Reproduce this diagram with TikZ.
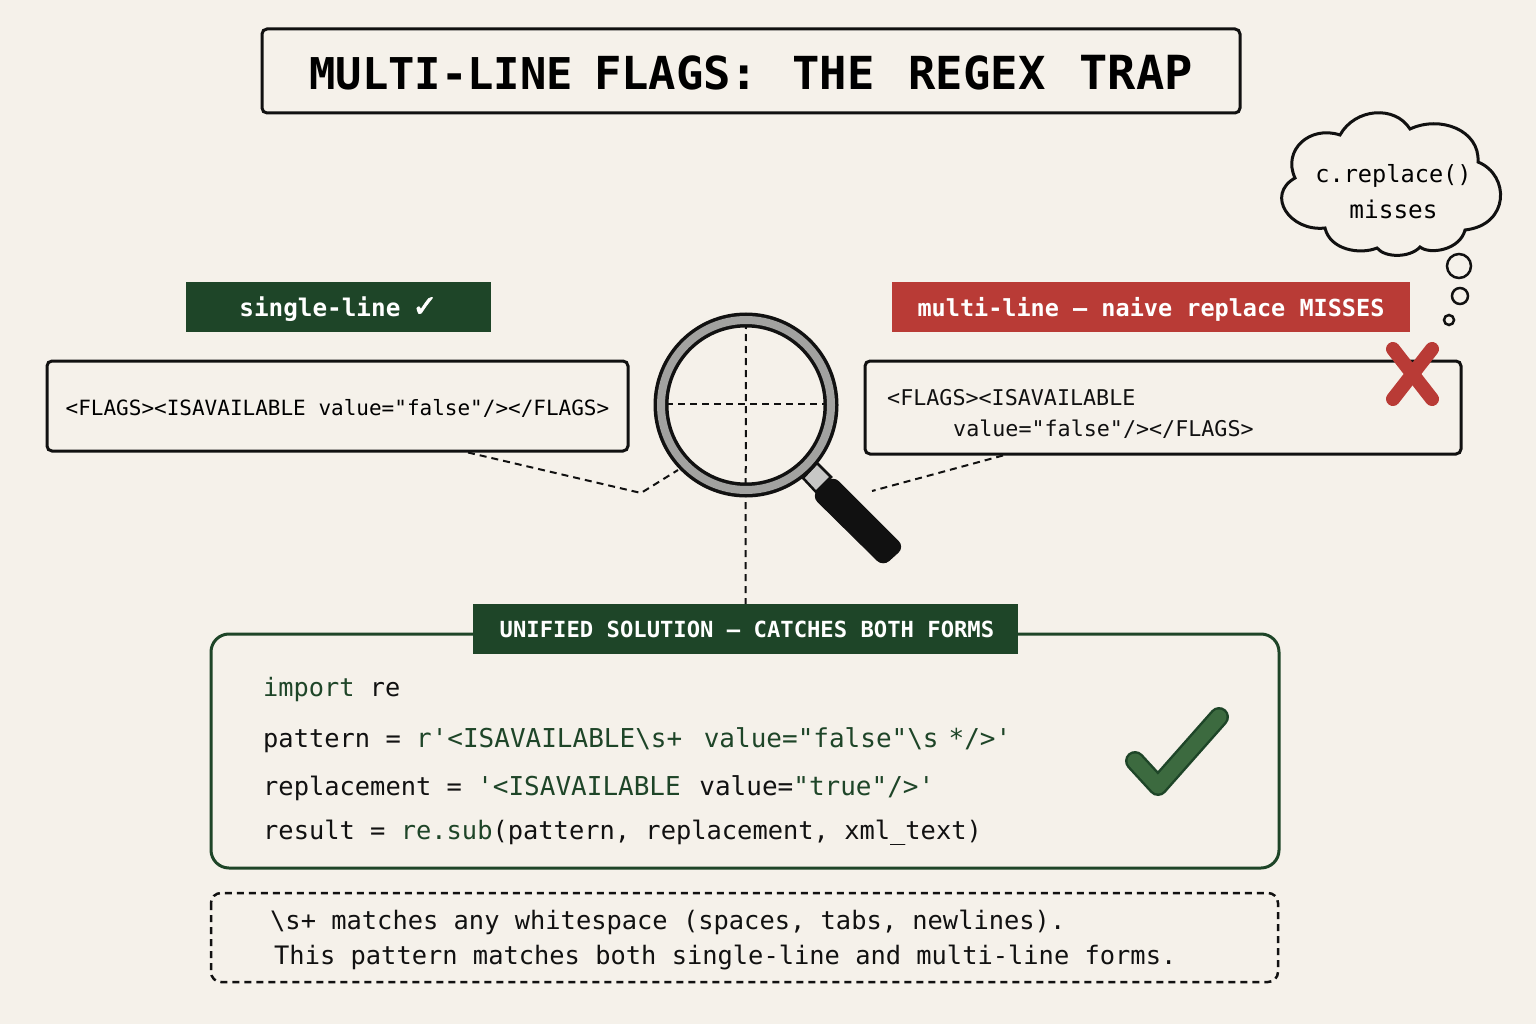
\documentclass[tikz,border=0pt]{standalone}
\usepackage{fontspec}
\usetikzlibrary{positioning}
\newfontfamily\codemono{DejaVu Sans Mono}
\newfontfamily\ticksans[FakeBold=2.5]{DejaVu Sans}
\newcommand{\monosize}[1]{\fontsize{#1}{#1}\selectfont\codemono}
\definecolor{paper}{HTML}{F5F1EA}
\definecolor{ink}{HTML}{111111}
\definecolor{leaf}{HTML}{1E4528}
\definecolor{leafmid}{HTML}{3C6A3F}
\definecolor{brick}{HTML}{B93B36}
\definecolor{ringgrey}{HTML}{A2A2A0}
\tikzset{
  framebox/.style={draw=ink,line width=3pt,rounded corners=5pt,inner sep=0pt},
  badge/.style={inner sep=0pt,text=white},
  codeline/.style={anchor=west,inner sep=0pt,text=ink},
  guide/.style={draw=ink,line width=2pt,dash pattern=on 7pt off 5pt},
}
\begin{document}
\begin{tikzpicture}
        [x=1pt,y=-1pt]
        \fill[paper] (0,0) rectangle (1536,1024);
        \useasboundingbox (0,0) rectangle (1536,1024);

        \node[framebox,minimum width=978pt,minimum height=84pt] (title) at (751,71)
          {\raisebox{-2pt}[\height][\depth]{\monosize{43.8}\bfseries MULTI-LINE\kern21pt\monosize{45.5}\bfseries\spaceskip=34pt FLAGS: THE REGEX {\monosize{47}\bfseries TRAP}}};

        \node[badge,fill=leaf,minimum width=305pt,minimum height=50pt] (singlebadge) at (338.5,307)
          {\raisebox{-2pt}[\height][\depth]{\monosize{24.3}\bfseries single-line\kern12pt{\fontsize{30}{30}\selectfont\mdseries\ticksans ✓}}};
        \node[badge,fill=brick,minimum width=518pt,minimum height=50pt] (multibadge) at (1151,307)
          {\raisebox{-2pt}[\height][\depth]{\monosize{23.5}\bfseries multi-line — naive replace MISSES}};

        \node[framebox,minimum width=581pt,minimum height=90pt] (singlebox) at (337.5,406)
          {\raisebox{-2pt}[\height][\depth]{\monosize{21}<FLAGS><ISAVAILABLE value="false"/></FLAGS>}};
        \node[framebox,minimum width=596pt,minimum height=93pt] (multibox) at (1163,407.5) {};
        \node[codeline,font=\monosize{21.7}] (multione) at (887,398) {<FLAGS><ISAVAILABLE};
        \node[codeline,font=\monosize{21.7}] (multitwo) at (953,429) {value="false"/></FLAGS>};

        \draw[brick,line width=14pt,line cap=round] (1393,349) -- (1432,399);
        \draw[brick,line width=14pt,line cap=round] (1432,349) -- (1393,399);

        \draw[draw=ink,line width=3pt,fill=paper] (1295,178)
          .. controls (1282,150) and (1310,125) .. (1340,135)
          .. controls (1355,108) and (1395,105) .. (1410,129)
          .. controls (1440,115) and (1480,130) .. (1478,162)
          .. controls (1510,175) and (1510,225) .. (1465,230)
          .. controls (1460,250) and (1430,255) .. (1420,247)
          .. controls (1410,258) and (1385,258) .. (1377,248)
          .. controls (1360,255) and (1330,250) .. (1325,228)
          .. controls (1290,232) and (1265,195) .. (1295,178) -- cycle;
        \node[inner sep=0pt,font=\monosize{23.6}] (thinkone) at (1393.5,176) {c.replace()};
        \node[inner sep=0pt,font=\monosize{24.4}] (thinktwo) at (1393.5,209) {misses};
        \draw[ink,line width=2.5pt] (1459,266) circle (12);
        \draw[ink,line width=2.5pt] (1460,296) circle (8);
        \draw[ink,line width=2.5pt] (1449,320) circle (5);

        \draw[draw=leaf,line width=3pt,rounded corners=18pt] (473,634) -- (211,634) -- (211,868) -- (1279,868) -- (1279,634) -- (1018,634);
        \node[badge,fill=leaf,minimum width=545pt,minimum height=50pt] (solbadge) at (745.5,629)
          {\hspace{3pt}\monosize{22.2}\bfseries UNIFIED SOLUTION — CATCHES BOTH FORMS};

        \coordinate (lens) at (746,405);
        \coordinate (lkink) at (641,493);
        \coordinate (lensleft) at (678,470);
        \coordinate (rfree) at (872,491);
        \coordinate (lenstop) at (746,322);

        \draw[guide] ([xshift=130.5pt]singlebox.south) -- (lkink) -- (lensleft);
        \draw[guide] ([xshift=-160pt]multibox.south) -- (rfree);
        \draw[guide] (666,404) -- (826,404);
        \draw[guide] (lenstop) -- (solbadge.north);

        \draw[draw=ink,line width=2.5pt,fill=ringgrey!60] (803,478) -- (817,463) -- (831,477) -- (816,492) -- cycle;
        \draw[fill=ink,draw=ink,line width=1pt,rounded corners=8pt] (833,476) -- (904,547) -- (883,566) -- (812,496) -- cycle;
        \draw[ink,line width=15pt] (lens) circle (85);
        \draw[ringgrey,line width=8pt] (lens) circle (85);

        \node[codeline,font=\monosize{25.3}] (lineimport) at (263,690) {\textcolor{leaf}{import} re};
        \node[codeline,font=\monosize{25.4}] (linepattern) at (263,740)
          {pattern = \fontsize{26}{26}\selectfont\textcolor{leaf}{r'<ISAVAILABLE\textbackslash s+ \kern6pt value="false"\textbackslash s\kern10pt */>'}};
        \node[codeline,font=\monosize{25.4}] (linereplace) at (263,788)
          {replacement = \fontsize{26}{26}\selectfont\textcolor{leaf}{'<ISAVAILABLE}\kern3pt{} value=\textcolor{leaf}{"true"/>'}};
        \node[codeline,font=\monosize{25.4}] (lineresult) at (263,833)
          {result = \textcolor{leaf}{re.sub}(pattern, replacement, xml\_text)};

        \draw[leaf,line width=20pt,line cap=round,line join=round] (1135,761) -- (1158,786) -- (1219,717);
        \draw[leafmid,line width=15pt,line cap=round,line join=round] (1135,761) -- (1158,786) -- (1219,717);

        \draw[draw=ink,line width=2.5pt,dash pattern=on 7pt off 5pt,rounded corners=10pt] (211,893) rectangle (1278,982);
        \node[codeline,font=\monosize{25.4}] (noteone) at (270,922)
          {\textbackslash s+ matches any whitespace (spaces, tabs, newlines).};
        \node[codeline,font=\monosize{25.4}] (notetwo) at (274,958)
          {This pattern matches both single-line and multi-line forms.};
      \end{tikzpicture}
\end{document}
